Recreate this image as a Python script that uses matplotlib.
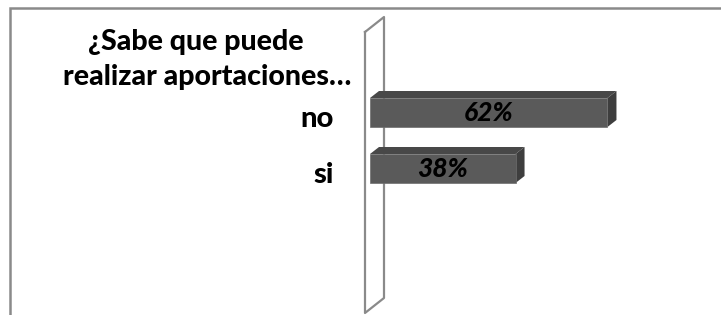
import matplotlib
matplotlib.use("Agg")
import matplotlib.pyplot as plt
from matplotlib.patches import Polygon
from matplotlib.transforms import IdentityTransform, offset_copy

# datos
categorias = ["si", "no"]
porcentajes = [38, 62]
etiquetas = ["38%", "62%"]
titulo = ["¿Sabe que puede", "realizar aportaciones…"]

W, H = 721, 315
fig = plt.figure(figsize=(W / 100, H / 100), dpi=100)

# capa de fondo en pixeles (marco y pared 3D)
bg = fig.add_axes([0, 0, 1, 1])
bg.set_xlim(0, W)
bg.set_ylim(H, 0)
bg.axis("off")
gris = "#8a8a8a"
bg.plot([10, 10, W], [H, 8, 8], color=gris, lw=1.8, solid_joinstyle="miter")
bg.plot([365, 365, 384, 384, 365], [32, 313, 298, 17, 32], color=gris, lw=1.6)

# barras
ax = fig.add_axes([370 / W, 0, (W - 370) / W, 1])
ax.patch.set_alpha(0)
ax.axis("off")
ax.set_xlim(0, (W - 370) / 3.83)
ax.set_ylim(-2.616, 3.009)
ypos = list(range(len(categorias)))
h = 0.518
ax.barh(ypos, porcentajes, height=h, color="#5a5a5a", edgecolor="#6e6e6e", lw=0.5, zorder=3)

fig.canvas.draw()
dx, dy = 9, 7
for y, v in zip(ypos, porcentajes):
    x0, y0 = ax.transData.transform((0, y - h / 2))
    x1, y1 = ax.transData.transform((v, y + h / 2))
    arriba = [(x0, y1), (x1, y1), (x1 + dx, y1 + dy), (x0 + dx, y1 + dy)]
    lado = [(x1, y0), (x1 + dx, y0 + dy), (x1 + dx, y1 + dy), (x1, y1)]
    ax.add_patch(Polygon(arriba, closed=True, facecolor="#484848", edgecolor="none",
                         transform=IdentityTransform(), clip_on=False, zorder=2))
    ax.add_patch(Polygon(lado, closed=True, facecolor="#3e3e3e", edgecolor="none",
                         transform=IdentityTransform(), clip_on=False, zorder=2))

# etiquetas de valores
for y, v, t in zip(ypos, porcentajes, etiquetas):
    ax.text(v / 2, y, t, ha="center", va="center", fontsize=19, fontweight="black",
            style="italic", family="Lato", color="black", zorder=4)

# etiquetas de categorias
tr = offset_copy(ax.get_yaxis_transform(), fig=fig, x=-36, y=-6, units="dots")
for y, c in zip(ypos, categorias):
    ax.text(0, y, c, transform=tr, ha="right", va="center", fontsize=21,
            fontweight="black", family="Lato", color="black")

# titulo
fig.text(196 / W, 1 - 50 / H, titulo[0], ha="center", va="baseline", fontsize=20.5,
         fontweight="black", family="Lato")
fig.text(207 / W, 1 - 85 / H, titulo[1], ha="center", va="baseline", fontsize=20.5,
         fontweight="black", family="Lato")

fig.savefig("out.png", dpi=100)
